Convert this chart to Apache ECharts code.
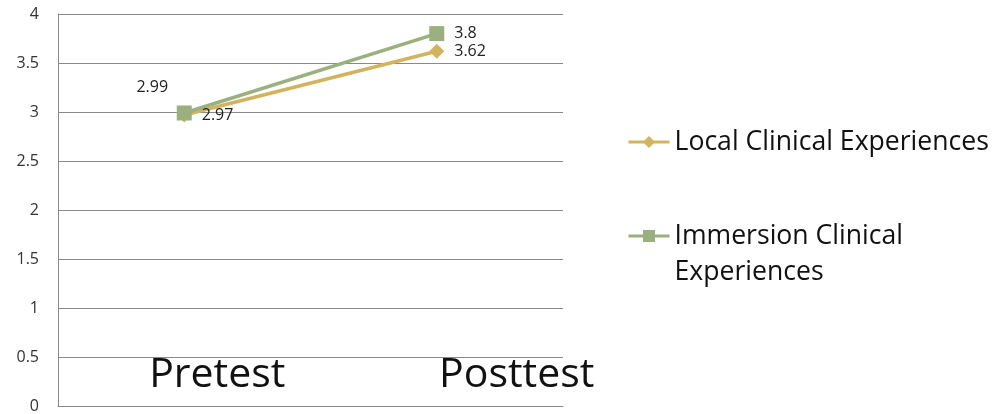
<!DOCTYPE html>
<html>
<head>
<meta charset="utf-8">
<script src="https://cdn.jsdelivr.net/npm/echarts@6/dist/echarts.min.js"></script>
<style>
html,body{margin:0;padding:0;background:#fff;}
#chart{width:992px;height:414px;}
</style>
</head>
<body>
<div id="chart"></div>
<script>
var categories = ['Pretest', 'Posttest'];
var seriesNames = ['Local Clinical Experiences', 'Immersion Clinical Experiences'];
var localValues = [2.97, 3.62];
var immersionValues = [2.99, 3.8];
var yTicks = [0, 0.5, 1, 1.5, 2, 2.5, 3, 3.5, 4];

var FONT = '"Open Sans", "Noto Sans", sans-serif';
var chart = echarts.init(document.getElementById('chart'));

var catPad = [66, 160];

chart.setOption({
  animation: false,
  grid: { left: 58, right: 429, top: 14, bottom: 8, containLabel: false },
  legend: {
    orient: 'vertical',
    left: 627,
    top: 124,
    padding: 0,
    itemWidth: 41,
    itemHeight: 15,
    itemGap: 22,
    lineStyle: { width: 3 },
    formatter: function (name) {
      if (name === seriesNames[1]) {
        var k = name.lastIndexOf(' ');
        return '\n' + name.slice(0, k) + '\n' + name.slice(k + 1);
      }
      return name;
    },
    textStyle: {
      fontFamily: FONT, fontSize: 26.6, color: '#111', lineHeight: 36
    },
    data: seriesNames
  },
  xAxis: {
    type: 'category',
    data: categories,
    boundaryGap: true,
    axisLine: { show: true, lineStyle: { color: '#8a8a8a', width: 1 } },
    axisTick: { show: false },
    splitLine: { show: false },
    axisLabel: {
      margin: -31,
      verticalAlign: 'middle',
      align: 'center',
      formatter: function (v, i) { return '{c' + i + '|' + v + '}'; },
      rich: {
        c0: { fontFamily: FONT, fontSize: 41, color: '#111', padding: [0, 0, 0, catPad[0]] },
        c1: { fontFamily: FONT, fontSize: 41, color: '#111', padding: [0, 0, 0, catPad[1]] }
      }
    }
  },
  yAxis: {
    type: 'value',
    min: yTicks[0],
    max: yTicks[yTicks.length - 1],
    interval: yTicks[1] - yTicks[0],
    axisLine: { show: true, lineStyle: { color: '#8a8a8a', width: 1 } },
    axisTick: { show: false },
    splitLine: { show: true, lineStyle: { color: '#8a8a8a', width: 1 } },
    axisLabel: {
      margin: 19,
      fontFamily: FONT, fontSize: 16, color: '#333',
      formatter: function (v) { return String(v); }
    }
  },
  series: [
    {
      name: seriesNames[0],
      type: 'line',
      data: localValues,
      symbol: 'diamond',
      symbolSize: 15,
      itemStyle: { color: '#D2B45E' },
      lineStyle: { color: '#D2B45E', width: 3.5 },
      label: {
        show: true, position: 'right', distance: 10,
        fontFamily: FONT, fontSize: 16, color: '#222'
      }
    },
    {
      name: seriesNames[1],
      type: 'line',
      data: immersionValues.map(function (v, i) {
        if (i === 0) {
          return { value: v, label: { position: 'top', distance: 4, offset: [-32, -6] } };
        }
        return v;
      }),
      symbol: 'rect',
      symbolSize: 15,
      itemStyle: { color: '#9BB07F' },
      lineStyle: { color: '#9BB07F', width: 3.5 },
      label: {
        show: true, position: 'right', distance: 10,
        fontFamily: FONT, fontSize: 16, color: '#222'
      }
    }
  ]
});
</script>
</body>
</html>
